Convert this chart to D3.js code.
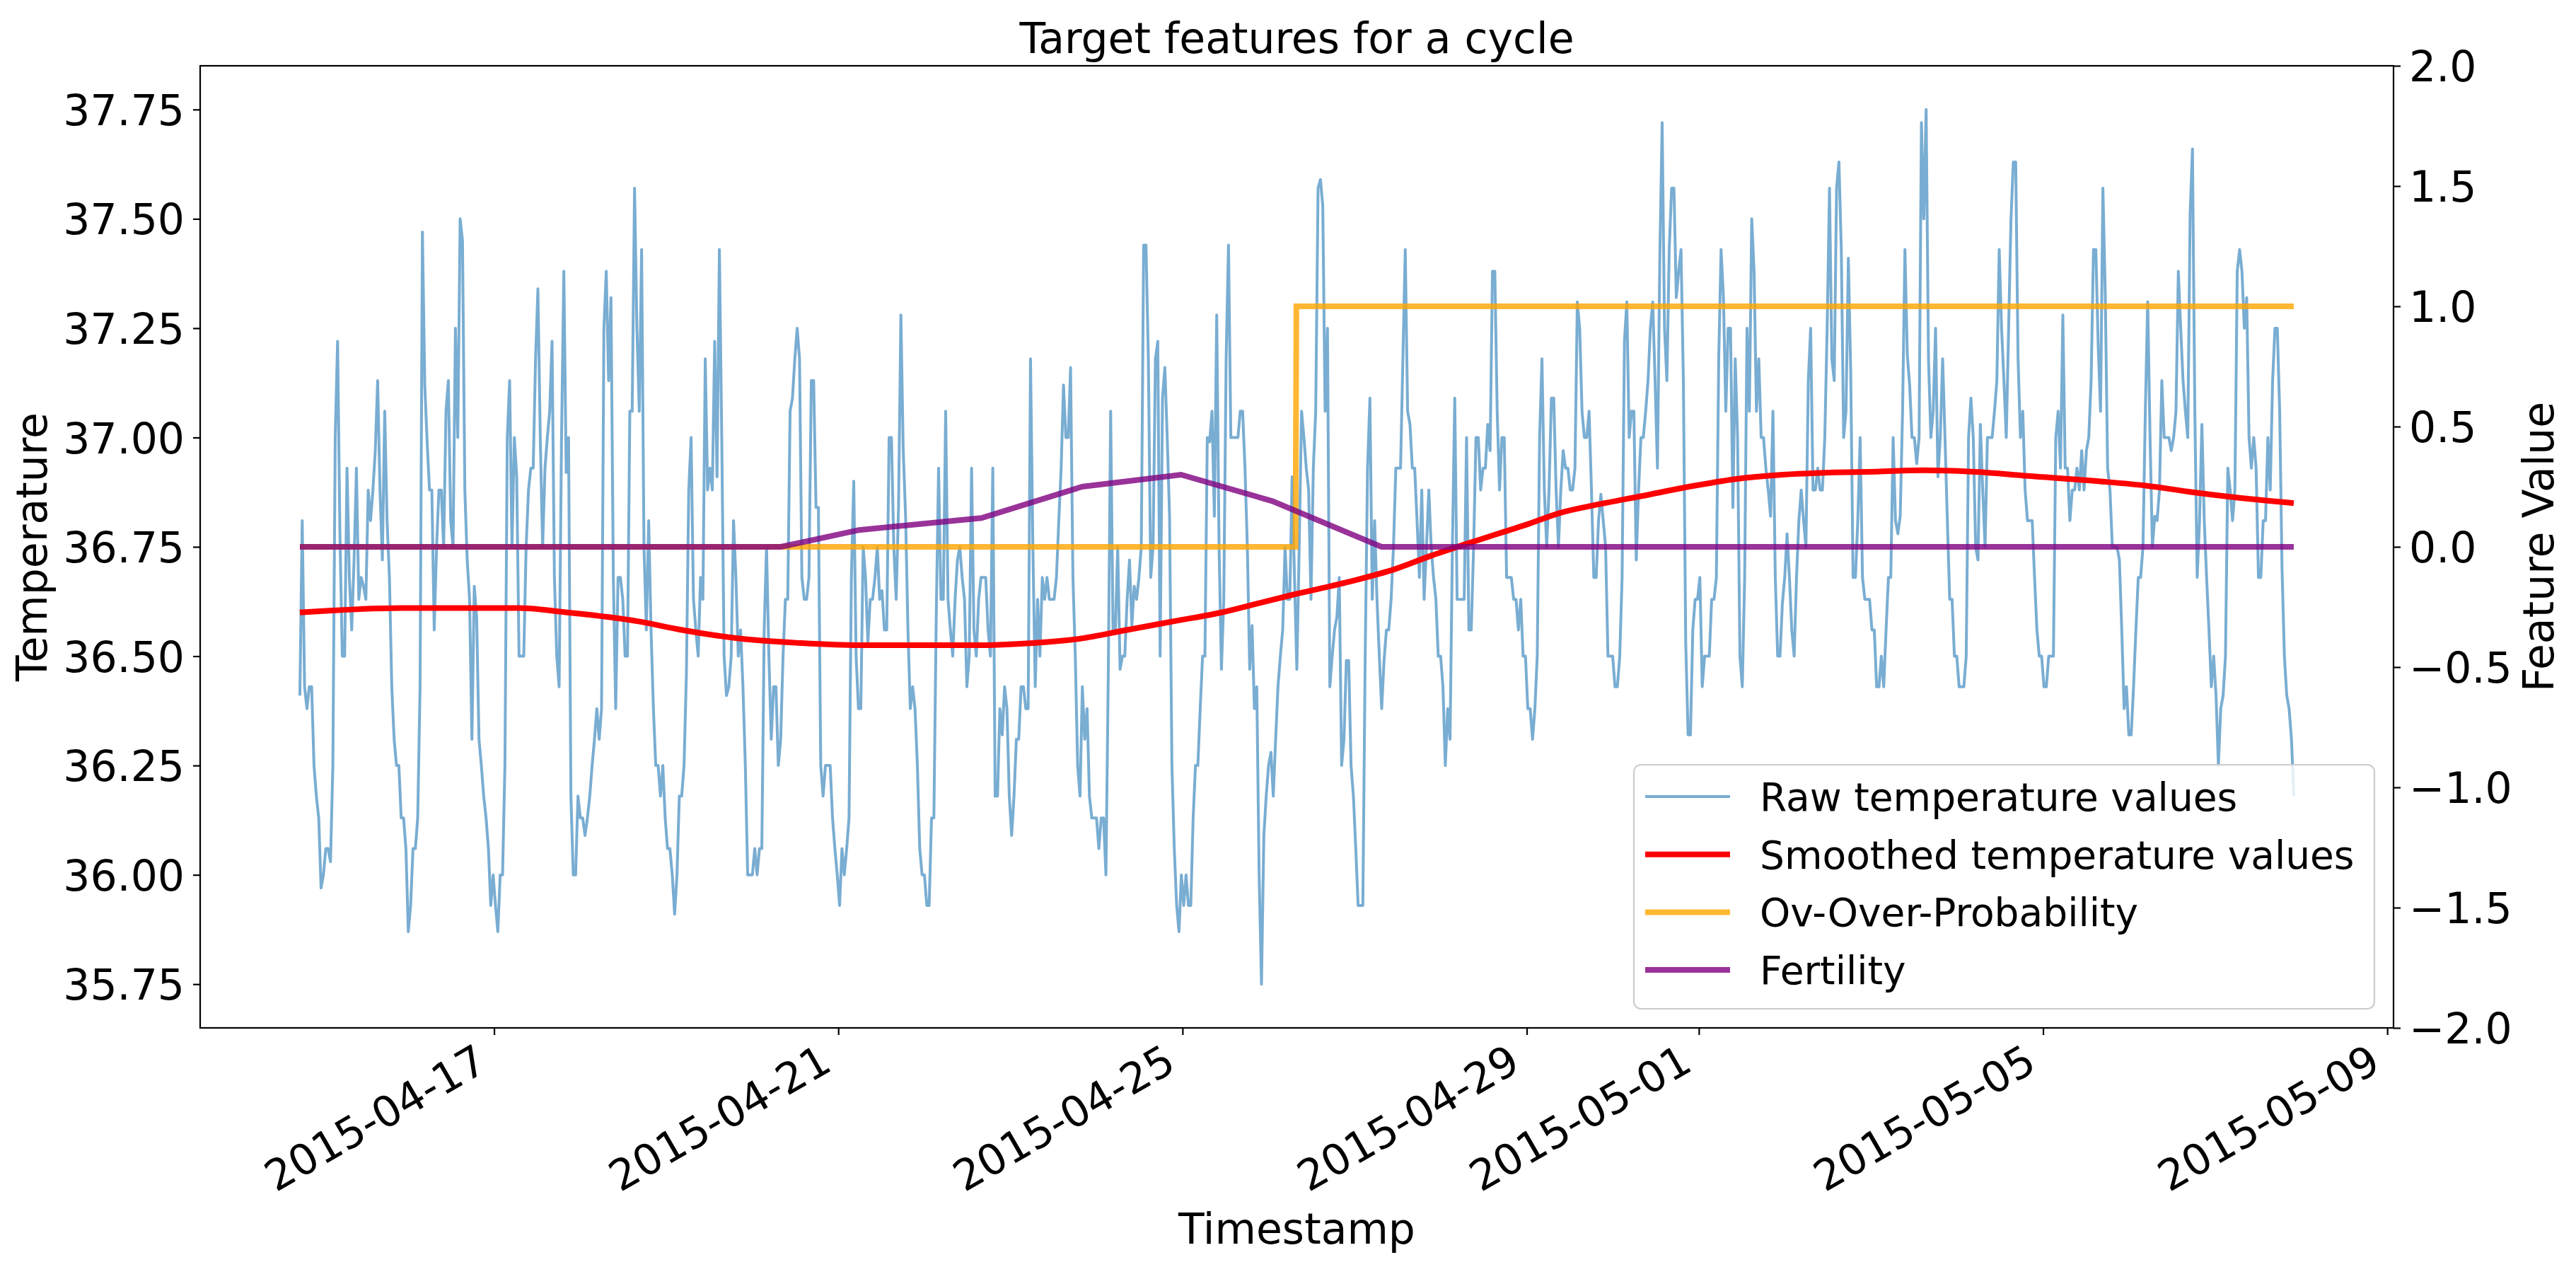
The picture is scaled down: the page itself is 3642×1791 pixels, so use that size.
<!DOCTYPE html>
<html><head><meta charset="utf-8">
<script src="https://cdn.jsdelivr.net/npm/d3@7"></script>
<style>
body{margin:0;background:#fff}
svg{display:block}
text{font-family:"DejaVu Sans",sans-serif;fill:#000}
</style>
</head><body>
<svg id="chart" width="3642" height="1791"></svg>
<script>
// ---------------- data ----------------
const chartTitle = "Target features for a cycle";
const xLabel = "Timestamp";
const yLabelLeft = "Temperature";
const yLabelRight = "Feature Value";
const seriesNames = ["Raw temperature values", "Smoothed temperature values", "Ov-Over-Probability", "Fertility"];

// raw readings, evenly spaced between these two timestamps
const rawStart = "2015-04-14T17:50";
const rawEnd = "2015-05-07T21:56";
const rawTemps = [
36.41,36.81,36.43,36.38,36.43,36.43,36.25,36.18,36.13,35.97,
36.00,36.06,36.06,36.03,36.25,37.00,37.22,36.78,36.50,36.50,
36.93,36.68,36.56,36.72,36.93,36.63,36.68,36.66,36.63,36.88,
36.81,36.88,36.97,37.13,36.88,36.72,37.06,36.81,36.68,36.43,
36.31,36.25,36.25,36.13,36.13,36.06,35.87,35.93,36.06,36.06,
36.13,36.43,37.47,37.12,36.99,36.88,36.88,36.56,36.75,36.88,
36.88,36.75,37.06,37.13,36.81,36.75,37.25,37.00,37.50,37.45,
36.88,36.72,36.63,36.31,36.66,36.59,36.31,36.25,36.18,36.13,
36.06,35.93,36.00,35.93,35.87,36.00,36.00,36.25,37.00,37.13,
36.75,37.00,36.91,36.50,36.50,36.50,36.75,36.88,36.93,36.93,
37.18,37.34,37.00,36.75,36.93,37.00,37.06,37.22,36.68,36.50,
36.43,36.99,37.38,36.92,37.00,36.18,36.00,36.00,36.18,36.13,
36.13,36.09,36.13,36.18,36.25,36.31,36.38,36.31,36.38,37.25,
37.38,37.13,37.32,36.68,36.38,36.68,36.68,
36.63,36.50,36.50,37.06,37.06,37.57,37.25,37.06,37.43,36.75,
36.56,36.81,36.56,36.38,36.25,36.25,36.18,36.25,36.13,36.06,
36.06,36.00,35.91,36.00,36.18,36.18,36.25,36.46,36.88,37.00,
36.63,36.56,36.50,36.68,36.63,37.18,36.88,36.93,36.88,37.22,
36.91,37.43,37.00,36.50,36.41,36.43,36.50,36.81,36.68,36.50,
36.56,36.43,36.25,36.00,36.00,36.00,36.06,36.00,36.06,36.06,
36.56,36.75,36.50,36.31,36.43,36.43,36.25,36.31,36.50,36.63,
36.63,37.06,37.09,37.18,37.25,37.18,36.68,36.63,36.63,36.68,
37.13,37.13,36.84,36.84,36.25,36.18,36.25,36.25,36.25,36.13,
36.06,36.00,35.93,36.06,36.00,36.06,36.13,36.68,36.90,36.50,
36.38,36.38,36.75,36.68,36.53,36.63,36.63,36.68,36.75,36.63,
36.65,36.56,36.56,37.00,37.00,36.75,36.63,36.84,37.28,36.97,
36.82,36.56,36.38,36.43,36.38,36.25,36.06,36.00,36.00,35.93,
35.93,36.13,36.13,36.59,36.93,36.63,36.63,37.06,36.63,36.56,
36.50,36.63,36.72,36.75,
36.68,36.63,36.43,36.50,36.93,36.56,36.50,36.63,36.68,36.68,
36.68,36.56,36.50,36.93,36.18,36.18,36.38,36.32,36.43,36.38,
36.18,36.09,36.18,36.31,36.31,36.43,36.43,36.38,36.38,37.18,
36.75,36.43,36.63,36.50,36.68,36.63,36.68,36.63,36.63,36.63,
36.68,36.81,36.93,37.12,37.00,37.00,37.16,36.68,36.50,36.25,
36.18,36.43,36.31,36.38,36.18,36.13,36.13,36.13,36.06,36.13,
36.13,36.00,36.46,37.06,36.56,36.56,36.75,36.47,36.50,36.50,
36.63,36.72,36.57,36.66,36.63,36.68,36.75,37.44,37.44,37.18,
36.68,36.75,37.18,37.22,36.50,37.09,37.16,37.00,36.82,36.25,
36.06,35.93,35.87,36.00,35.93,36.00,35.93,35.93,36.13,36.25,
36.25,36.38,36.50,36.50,37.00,36.99,37.06,36.82,37.28,36.75,
36.47,36.63,37.18,37.44,37.00,37.00,37.00,37.00,37.06,37.06,
36.93,36.75,36.47,36.57,36.38,36.43,36.00,35.75,36.09,36.18,
36.25,36.28,36.18,36.31,36.43,36.50,36.56,36.75,36.63,36.63,
36.91,36.68,36.47,36.75,
37.06,37.00,36.93,36.88,36.63,36.93,37.06,37.57,37.59,37.53,
37.06,37.25,36.43,36.50,36.56,36.59,36.68,36.25,36.31,36.49,
36.49,36.25,36.18,36.06,35.93,35.93,35.93,36.50,36.93,37.09,
36.63,36.81,36.63,36.50,36.38,36.49,36.56,36.56,36.63,36.75,
36.93,36.93,36.93,37.18,37.43,37.06,37.03,36.93,36.93,36.81,
36.68,36.88,36.63,36.75,36.88,36.75,36.68,36.63,36.50,36.50,
36.43,36.25,36.38,36.31,36.75,37.09,36.63,36.63,36.63,36.63,
37.00,36.56,36.56,36.75,37.00,37.00,36.88,36.93,36.93,37.03,
36.97,37.38,37.38,37.06,36.88,37.00,37.00,36.68,36.68,36.68,
36.63,36.63,36.56,36.63,36.50,36.50,36.38,36.38,36.31,36.38,
36.50,37.00,37.18,36.88,36.75,36.88,37.09,37.09,36.88,36.75,
36.88,36.97,36.93,36.93,36.88,36.88,36.93,37.31,37.25,37.06,
37.00,37.00,37.06,36.88,36.68,36.68,36.81,36.87,36.81,36.75,
36.50,36.50,36.50,36.43,36.43,36.50,36.68,37.22,37.31,37.00,
37.06,37.06,36.72,36.88,
37.00,37.00,37.06,37.13,37.25,37.31,37.13,36.93,37.41,37.72,
37.25,37.13,37.43,37.57,37.57,37.32,37.38,37.43,37.13,36.53,
36.32,36.32,36.56,36.63,36.63,36.68,36.43,36.50,36.50,36.50,
36.63,36.63,36.68,37.18,37.43,37.32,37.06,37.25,37.25,36.84,
37.18,37.00,36.50,36.43,36.68,37.25,37.06,37.50,37.38,37.06,
37.18,37.00,37.00,36.93,36.88,36.82,37.06,36.68,36.50,36.50,
36.62,36.68,36.78,36.68,36.56,36.50,36.68,36.81,36.88,36.81,
36.75,37.13,37.25,36.88,36.88,36.93,36.88,36.88,37.00,37.25,
37.57,37.18,37.13,37.57,37.63,37.43,37.00,37.06,37.41,37.15,
36.68,36.68,36.81,37.00,36.68,36.63,36.63,36.63,36.56,36.56,
36.43,36.43,36.50,36.43,36.56,36.68,36.68,37.00,36.81,36.78,
36.82,37.06,37.43,37.19,37.12,37.00,37.00,36.94,37.00,37.72,
37.50,37.75,37.18,37.00,37.06,37.25,36.91,37.00,37.18,37.00,
36.81,36.63,36.63,36.50,36.50,36.43,36.43,36.43,36.50,37.00,
37.09,37.00,36.75,36.72,
37.03,36.88,36.75,37.00,37.00,37.00,37.06,37.13,37.43,37.25,
37.13,37.00,37.25,37.50,37.63,37.63,37.18,37.00,37.06,36.88,
36.81,36.81,36.81,36.68,36.56,36.50,36.50,36.43,36.43,36.50,
36.50,36.50,37.00,37.06,36.93,37.28,36.93,36.93,36.81,36.88,
36.88,36.93,36.88,36.97,36.88,36.97,37.00,37.13,37.43,37.43,
37.21,37.06,37.57,37.33,36.93,36.88,36.75,36.75,36.75,36.72,
36.56,36.38,36.43,36.32,36.32,36.43,36.56,36.68,36.68,36.75,
37.06,37.31,37.00,36.75,36.82,36.81,36.88,37.13,37.00,37.00,
37.00,36.97,37.00,37.06,37.38,37.25,37.13,37.06,37.00,37.51,
37.66,37.06,36.68,36.81,37.03,36.81,36.68,36.56,36.43,36.50,
36.41,36.25,36.38,36.41,36.50,36.93,36.88,36.81,36.88,37.38,
37.43,37.38,37.25,37.32,37.00,36.93,37.00,36.93,36.68,36.68,
36.81,36.81,37.00,36.88,37.13,37.25,37.25,37.06,36.70,36.50,
36.41,36.38,36.31,36.18
];

// smoothed temperature: [days since rawStart, temperature]
const smoothedTemps = [
[0,36.60],[1.18,36.61],[2.0,36.61],[2.55,36.61],[3.10,36.60],[3.92,36.58],[4.44,36.56],
[5.12,36.54],[5.81,36.53],[6.49,36.525],[7.18,36.525],[7.86,36.525],[8.52,36.53],[9.07,36.54],
[9.61,36.56],[10.16,36.58],[10.71,36.60],[11.12,36.62],[11.53,36.64],[12.19,36.67],[12.74,36.70],
[13.15,36.73],[13.56,36.757],[13.97,36.783],[14.24,36.80],[14.65,36.828],[15.06,36.846],[15.59,36.866],
[16.13,36.887],[16.68,36.905],[17.23,36.915],[17.78,36.92],[18.32,36.922],[18.87,36.925],[19.42,36.922],
[20.08,36.912],[20.90,36.90],[21.45,36.89],[21.99,36.875],[22.54,36.862],[23.17,36.85]
];

// feature values (right axis): [days since rawStart, value]
const ovOverProbability = [[0,0],[11.57,0],[11.58,1],[23.17,1]];
const fertility = [[0,0],[5.59,0],[6.5,0.07],[7.92,0.12],[9.09,0.25],[10.24,0.30],[11.3,0.19],[12.57,0],[23.17,0]];

const xTickDates = ["2015-04-17","2015-04-21","2015-04-25","2015-04-29","2015-05-01","2015-05-05","2015-05-09"];
const leftTicks = [35.75,36.00,36.25,36.50,36.75,37.00,37.25,37.50,37.75];
const rightTicks = [-2.0,-1.5,-1.0,-0.5,0.0,0.5,1.0,1.5,2.0];

// ---------------- layout / style ----------------
const L = 283, R = 3384, T = 93, B = 1453;
const tickFont = 60, labelFont = 60, titleFont = 60, legendFont = 55;
const colors = {raw:"#1f77b4", smooth:"#ff0000", ov:"#ffa500", fert:"#800080"};

const svg = d3.select("#chart");
svg.append("rect").attr("width",3642).attr("height",1791).attr("fill","#fff");

const parseT = d3.timeParse("%Y-%m-%dT%H:%M");
const parseD = d3.timeParse("%Y-%m-%d");
const t0 = parseT(rawStart), t1 = parseT(rawEnd);
const span = t1 - t0, dayMs = 864e5;
const stepMs = span / (rawTemps.length - 1);
const rawPts = rawTemps.map((v,i) => ({t: new Date(+t0 + i*stepMs), v}));
const toPts = arr => arr.map(([d,v]) => ({t: new Date(+t0 + d*dayMs), v}));

const x = d3.scaleTime()
  .domain([new Date(+t0 - 0.05*span), new Date(+t1 + 0.05*span)])
  .range([L, R]);
const [mn, mx] = d3.extent(rawTemps);
const yPad = 0.05*(mx - mn);
const yL = d3.scaleLinear().domain([mn - yPad, mx + yPad]).range([B, T]);
const yR = d3.scaleLinear().domain([-2, 2]).range([B, T]);

const lineL = d3.line().x(d => x(d.t)).y(d => yL(d.v));
const lineR = d3.line().x(d => x(d.t)).y(d => yR(d.v));

// raw
svg.append("path").datum(rawPts).attr("d", lineL)
  .attr("fill","none").attr("stroke",colors.raw).attr("stroke-opacity",0.6)
  .attr("stroke-width",4).attr("stroke-linejoin","round");
// smoothed
svg.append("path").datum(toPts(smoothedTemps))
  .attr("d", d3.line().x(d => x(d.t)).y(d => yL(d.v)).curve(d3.curveMonotoneX))
  .attr("fill","none").attr("stroke",colors.smooth).attr("stroke-width",8);
// ov-over-probability
svg.append("path").datum(toPts(ovOverProbability)).attr("d", lineR)
  .attr("fill","none").attr("stroke",colors.ov).attr("stroke-opacity",0.8)
  .attr("stroke-width",8).attr("stroke-linejoin","miter");
// fertility
svg.append("path").datum(toPts(fertility)).attr("d", lineR)
  .attr("fill","none").attr("stroke",colors.fert).attr("stroke-opacity",0.8)
  .attr("stroke-width",8);

// frame
svg.append("rect").attr("x",L).attr("y",T).attr("width",R-L).attr("height",B-T)
  .attr("fill","none").attr("stroke","#000").attr("stroke-width",2.2);

// axes
function styleAxis(g){
  g.select(".domain").remove();
  g.selectAll(".tick line").attr("stroke","#000").attr("stroke-width",2.2);
  g.selectAll(".tick text").attr("font-size",tickFont).attr("font-family","DejaVu Sans").attr("fill","#000");
  g.attr("font-size",null).attr("font-family",null);
}
const gx = svg.append("g").attr("transform",`translate(0,${B})`)
  .call(d3.axisBottom(x).tickValues(xTickDates.map(parseD)).tickFormat(d3.timeFormat("%Y-%m-%d")).tickSize(10).tickSizeOuter(0));
styleAxis(gx);
gx.selectAll(".tick text").attr("x",0).attr("y",0).attr("dy",null)
  .attr("text-anchor","end").attr("transform","translate(-7,58.5) rotate(-30)");

const gyl = svg.append("g").attr("transform",`translate(${L},0)`)
  .call(d3.axisLeft(yL).tickValues(leftTicks).tickFormat(d3.format(".2f")).tickSize(10).tickPadding(12).tickSizeOuter(0));
styleAxis(gyl);
gyl.selectAll(".tick text").attr("dy","0.36em");

const gyr = svg.append("g").attr("transform",`translate(${R},0)`)
  .call(d3.axisRight(yR).tickValues(rightTicks).tickFormat(d3.format(".1f")).tickSize(10).tickPadding(12).tickSizeOuter(0));
styleAxis(gyr);
gyr.selectAll(".tick text").attr("dy","0.36em");

// labels
svg.append("text").attr("x",(L+R)/2).attr("y",75).attr("text-anchor","middle")
  .attr("font-size",titleFont).text(chartTitle);
svg.append("text").attr("x",(L+R)/2).attr("y",1758).attr("text-anchor","middle")
  .attr("font-size",labelFont).text(xLabel);
svg.append("text").attr("transform",`translate(66,${(T+B)/2}) rotate(-90)`).attr("text-anchor","middle")
  .attr("font-size",labelFont).text(yLabelLeft);
svg.append("text").attr("transform",`translate(3610,${(T+B)/2}) rotate(-90)`).attr("text-anchor","middle")
  .attr("font-size",labelFont).text(yLabelRight);

// legend
const legX = 2310, legY = 1081, legW = 1047, legH = 345;
const lg = svg.append("g");
lg.append("rect").attr("x",legX).attr("y",legY).attr("width",legW).attr("height",legH)
  .attr("rx",10).attr("fill","#fff").attr("fill-opacity",0.8)
  .attr("stroke","#cccccc").attr("stroke-width",2.2);
const legStyles = [
  {c:colors.raw, o:0.6, w:4},
  {c:colors.smooth, o:1, w:8},
  {c:colors.ov, o:0.8, w:8},
  {c:colors.fert, o:0.8, w:8}
];
seriesNames.forEach((name,i) => {
  const yy = 1126 + i*81.7;
  lg.append("line").attr("x1",2326).attr("x2",2446).attr("y1",yy).attr("y2",yy)
    .attr("stroke",legStyles[i].c).attr("stroke-opacity",legStyles[i].o).attr("stroke-width",legStyles[i].w);
  lg.append("text").attr("x",2488).attr("y",yy + 20).attr("font-size",legendFont).text(name);
});
</script>
</body></html>
